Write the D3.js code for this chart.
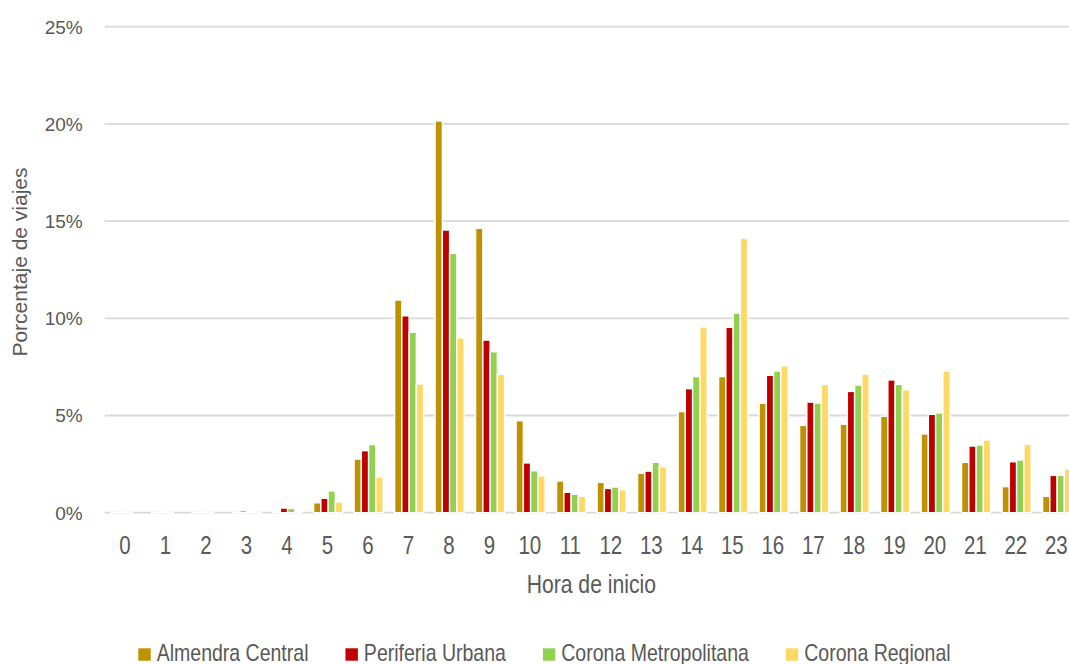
<!DOCTYPE html>
<html>
<head>
<meta charset="utf-8">
<script src="https://cdn.jsdelivr.net/npm/d3@7"></script>
<style>
  html, body { margin: 0; padding: 0; background: #fff; overflow: hidden; }
  svg { display: block; }
</style>
</head>
<body>
<svg id="chart" width="1069" height="664"></svg>
<script>
// ---- Data ----
const hours = ["0","1","2","3","4","5","6","7","8","9","10","11","12","13","14","15","16","17","18","19","20","21","22","23"];
const seriesNames = ["Almendra Central", "Periferia Urbana", "Corona Metropolitana", "Corona Regional"];
const almendraCentral =     [0.01, 0.01, 0.01, 0.01, 0.02, 0.51, 2.76, 10.94, 20.15, 14.63, 4.73, 1.63, 1.56, 2.03, 5.20, 7.00, 5.63, 4.49, 4.55, 4.96, 4.05, 2.59, 1.34, 0.84];
const periferiaUrbana =     [0.02, 0.03, 0.02, 0.09, 0.24, 0.74, 3.19, 10.13, 14.54, 8.88, 2.56, 1.05, 1.25, 2.14, 6.38, 9.54, 7.07, 5.69, 6.24, 6.83, 5.06, 3.43, 2.62, 1.92];
const coronaMetropolitana = [0.01, 0.01, 0.01, 0.06, 0.22, 1.12, 3.50, 9.28, 13.34, 8.28, 2.16, 0.95, 1.32, 2.59, 7.00, 10.27, 7.29, 5.64, 6.57, 6.60, 5.13, 3.48, 2.71, 1.92];
const coronaRegional =      [0.00, 0.00, 0.00, 0.01, 0.06, 0.55, 1.84, 6.62, 9.00, 7.12, 1.89, 0.84, 1.18, 2.37, 9.55, 14.11, 7.56, 6.60, 7.13, 6.33, 7.29, 3.74, 3.52, 2.25];
const seriesValues = [almendraCentral, periferiaUrbana, coronaMetropolitana, coronaRegional];
const seriesColors = ["#BF9000", "#C00000", "#92D050", "#FFD966"];
const yTicks = [0, 5, 10, 15, 20, 25];

// ---- Layout ----
const svg = d3.select("#chart");
const textColor = "#595959";
const gridColor = "#D9D9D9";
const font = "'Liberation Sans', Arial, sans-serif";
const plotLeft = 104.6, plotRight = 1076.6, plotTop = 26.7, plotBottom = 512.7;
const squeeze = 0.82;

const x0 = d3.scaleBand().domain(hours).range([plotLeft, plotRight]).padding(0);
const x1 = d3.scaleBand().domain(seriesNames).range([6.5, 35.5]).padding(0);
const y = d3.scaleLinear().domain([0, 25]).range([plotBottom, plotTop]);

function narrowText(parent, x, yPos, size, anchor, str) {
  const g = parent.append("g").attr("transform", `translate(${x},${yPos}) scale(${squeeze},1)`);
  return g.append("text")
    .attr("x", 0).attr("y", 0)
    .attr("text-anchor", anchor)
    .attr("font-family", font)
    .attr("font-size", size)
    .attr("fill", textColor)
    .text(str);
}

// Gridlines
svg.append("g").selectAll("line").data(yTicks).join("line")
  .attr("x1", plotLeft).attr("x2", plotRight)
  .attr("y1", d => y(d)).attr("y2", d => y(d))
  .attr("stroke", gridColor).attr("stroke-width", 1.8);

// Y tick labels
svg.append("g").selectAll("text").data(yTicks).join("text")
  .attr("x", 82.7).attr("y", d => y(d))
  .attr("dy", "0.36em")
  .attr("text-anchor", "end")
  .attr("font-family", font)
  .attr("font-size", 19)
  .attr("fill", textColor)
  .text(d => d + "%");

// Bars
const groups = svg.append("g").selectAll("g").data(hours).join("g")
  .attr("transform", d => `translate(${x0(d)},0)`);
groups.selectAll("rect")
  .data((h, i) => seriesNames.map((s, k) => ({ s, v: seriesValues[k][i], c: seriesColors[k] })))
  .join("rect")
  .attr("x", d => x1(d.s))
  .attr("width", x1.bandwidth())
  .attr("y", d => y(d.v))
  .attr("height", d => y(0) - y(d.v))
  .attr("fill", d => d.c)
  .attr("stroke", "#fff")
  .attr("stroke-width", 1.4);

// X tick labels
const xt = svg.append("g");
hours.forEach(h => narrowText(xt, x0(h) + x0.bandwidth() / 2, 554, 25, "middle", h));

// X axis title
narrowText(svg, 591.3, 592.7, 25.8, "middle", "Hora de inicio");

// Y axis title
svg.append("text")
  .attr("transform", "translate(26.7,262) rotate(-90)")
  .attr("text-anchor", "middle")
  .attr("font-family", font)
  .attr("font-size", 21)
  .attr("fill", textColor)
  .text("Porcentaje de viajes");

// Legend
const legend = svg.append("g");
let lx = 138.3;
seriesNames.forEach((name, k) => {
  legend.append("rect")
    .attr("x", lx).attr("y", 648.3)
    .attr("width", 12.4).attr("height", 12.4)
    .attr("fill", seriesColors[k]);
  const t = narrowText(legend, lx + 18.4, 661, 23.8, "start", name);
  lx += 18.4 + t.node().getComputedTextLength() * squeeze + 37;
});
</script>
</body>
</html>
